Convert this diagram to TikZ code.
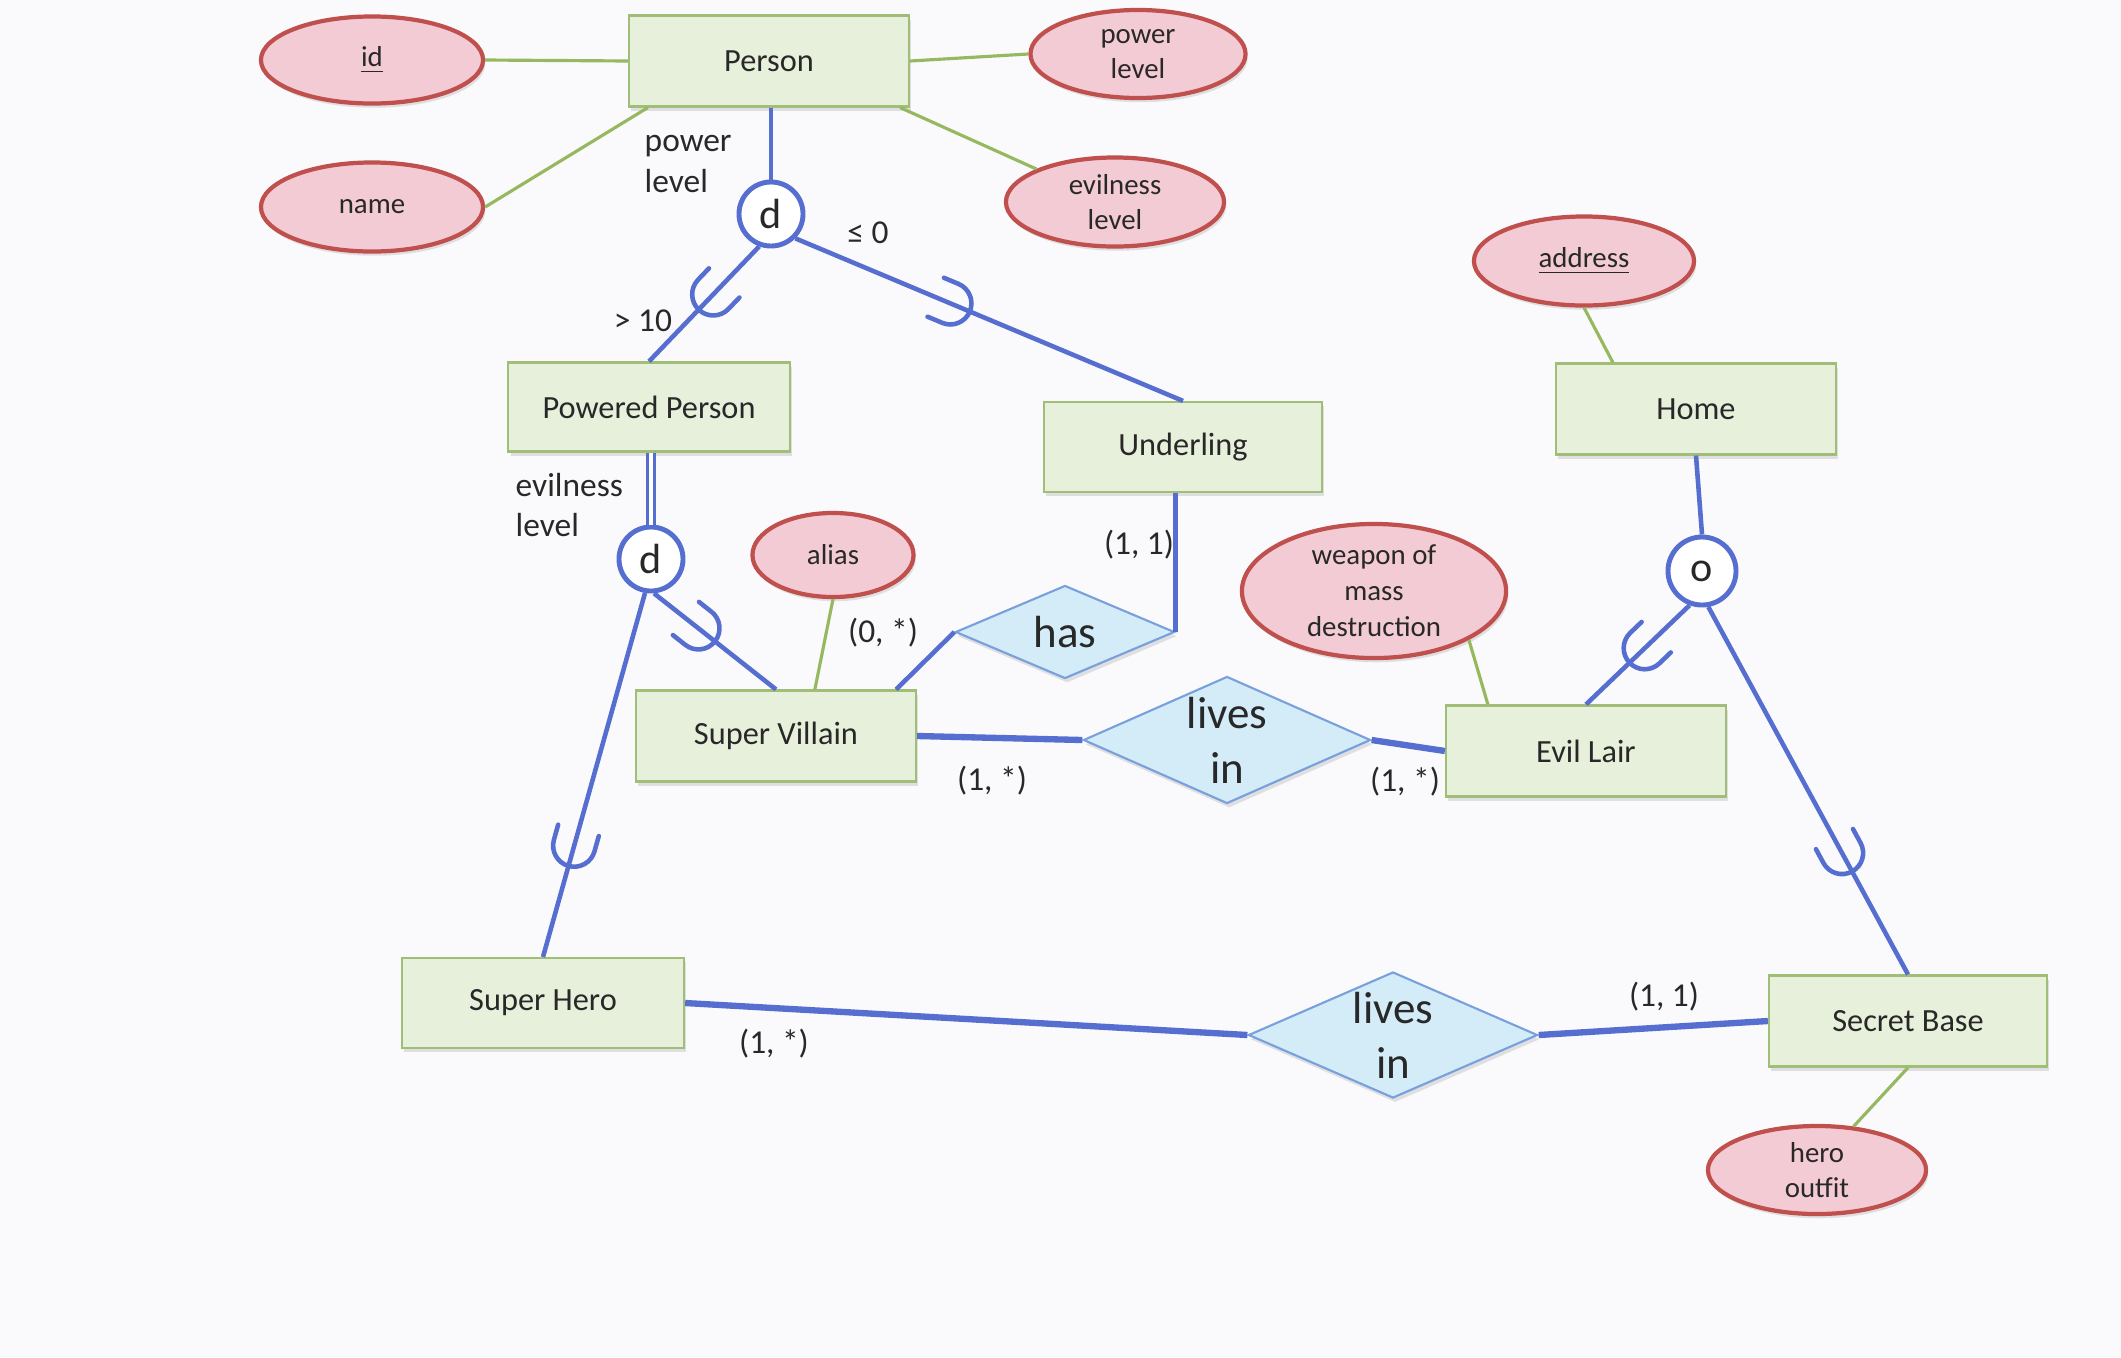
\documentclass[tikz,border=0pt]{standalone}
\usepackage{fontspec}
\setmainfont{Carlito}
\usetikzlibrary{shapes.geometric,decorations.markings,calc,shadows}

\definecolor{lineblue}{RGB}{86,110,208}
\definecolor{attrgreen}{RGB}{150,185,95}
\definecolor{boxfill}{RGB}{231,240,219}
\definecolor{boxdraw}{RGB}{160,190,120}
\definecolor{ellfill}{RGB}{243,203,212}
\definecolor{elldraw}{RGB}{192,80,77}
\definecolor{diafill}{RGB}{212,235,248}
\definecolor{diadraw}{RGB}{120,160,220}
\definecolor{bg}{RGB}{250,250,253}
\definecolor{txt}{RGB}{40,40,40}

\tikzset{
 softshadow/.style={drop shadow={shadow xshift=0.6pt, shadow yshift=-1.2pt, opacity=0.22}},
 entity/.style={rectangle, draw=boxdraw, fill=boxfill, line width=0.6pt, minimum width=2.8cm, minimum height=0.91cm, inner sep=0pt, font=\fontsize{9.2}{11}\selectfont, text=txt, softshadow},
 attr/.style={ellipse, draw=elldraw, fill=ellfill, line width=1.2pt, inner sep=0pt, align=center, font=\fontsize{8.2}{9.8}\selectfont, text=txt, softshadow},
 rel/.style={diamond, draw=diadraw, fill=diafill, line width=0.6pt, inner sep=0pt, align=center, font=\fontsize{12.8}{15.7}\selectfont, text=txt, softshadow},
 spec/.style={circle, draw=lineblue, fill=white, line width=1.4pt, minimum size=0.64cm, inner sep=0pt, font=\fontsize{12}{14}\selectfont, text=txt},
 lbl/.style={inner sep=0pt, font=\fontsize{9.5}{11.4}\selectfont, text=txt, align=left},
 link/.style={draw=lineblue, line width=1.3pt},
 rlink/.style={draw=lineblue, line width=1.8pt},
 alink/.style={draw=attrgreen, line width=0.9pt},
 subset/.style={postaction={decorate, decoration={markings, mark=at position #1 with {\draw[draw=lineblue, line width=1.3pt, line cap=round] (-10.5pt,6pt) -- (-6pt,6pt) arc[start angle=90, end angle=-90, radius=6pt] -- (-10.5pt,-6pt);}}}},
}

\begin{document}
\begin{tikzpicture}[x=0.01cm, y=-0.01cm]
\fill[bg] (0,0) rectangle (2121,1357);
\useasboundingbox (0,0) rectangle (2121,1357);

% nodes
\node[entity] (person) at (769,61) {Person};
\node[attr, minimum width=2.22cm, minimum height=0.87cm] (id) at (372,60) {\underline{id}};
\node[attr, minimum width=2.15cm, minimum height=0.88cm] (plevel) at (1138,54) {power\\level};
\node[attr, minimum width=2.22cm, minimum height=0.89cm] (name) at (372,207) {name};
\node[attr, minimum width=2.18cm, minimum height=0.89cm] (elevel) at (1115,202) {evilness\\level};
\node[spec] (d1) at (771,214) {d};
\node[entity, minimum width=2.81cm, minimum height=0.89cm] (pp) at (649,407) {Powered Person};
\node[entity, minimum width=2.78cm, minimum height=0.90cm] (und) at (1183,447) {Underling};
\node[spec] (d2) at (651,559) {d};
\node[attr, minimum width=1.61cm, minimum height=0.84cm] (alias) at (833,555) {alias};
\node[rel, aspect=2.35, minimum width=2.19cm, minimum height=0.93cm] (has) at (1065,632) {has};
\node[entity] (sv) at (776,736) {Super Villain};
\node[rel, aspect=2.26, minimum width=2.87cm, minimum height=1.27cm] (li1) at (1227,740) {lives\\in};
\node[entity] (el) at (1586,751) {Evil Lair};
\node[attr, minimum width=2.64cm, minimum height=1.34cm, font=\fontsize{8.2}{10.2}\selectfont] (weapon) at (1374,591) {weapon of\\mass\\destruction};
\node[attr, minimum width=2.20cm, minimum height=0.89cm] (addr) at (1584,261) {\underline{address}};
\node[entity] (home) at (1696,409) {Home};
\node[spec, minimum size=0.68cm] (ov) at (1702,571) {o};
\node[entity, minimum width=2.82cm, minimum height=0.90cm] (sh) at (543,1003) {Super Hero};
\node[rel, aspect=2.29, minimum width=2.89cm, minimum height=1.26cm] (li2) at (1393,1035) {lives\\in};
\node[entity, minimum width=2.78cm] (sb) at (1908,1021) {Secret Base};
\node[attr, minimum width=2.18cm, minimum height=0.88cm] (ho) at (1817,1170) {hero\\outfit};

% labels
\node[lbl, anchor=west] (lpl) at (644,164) {power\\level};
\node[lbl] (lle) at (868,233) {≤ 0};
\node[lbl] (lgt) at (643,321) {> 10};
\node[lbl, anchor=west] (lel) at (515,505) {evilness\\level};
\node[lbl] (c1) at (1139,545) {(1, 1)};
\node[lbl] (c2) at (883,633) {(0, *)};
\node[lbl] (c3) at (992,781) {(1, *)};
\node[lbl] (c4) at (1405,782) {(1, *)};
\node[lbl] (c5) at (774,1044) {(1, *)};
\node[lbl] (c6) at (1664,997) {(1, 1)};

% attribute links
\draw[alink] (id.east) -- (person.west);
\draw[alink] (name.east) -- ($(person.south west)+(20,0)$);
\draw[alink] (person.east) -- (plevel.west);
\draw[alink] ($(person.south east)+(-10,0)$) -- (elevel.north west);
\draw[alink] (alias.south) -- ($(sv.north west)+(180,0)$);
\draw[alink] (weapon.south east) -- ($(el.north west)+(43,0)$);
\draw[alink] (addr.south) -- ($(home.north west)+(58,0)$);
\draw[alink] (sb.south) -- (ho.50);

% specialisation links
\draw[link] (person.south -| d1) -- (d1.north);
\draw[link, subset=0.55] (d1.-110) -- (pp.north);
\draw[link, subset=0.45] (d1.-45) -- (und.north);
\draw[draw=lineblue, line width=0.8pt, double=white, double distance=1.2pt] (pp.south -| d2) -- (d2.north);
\draw[link, subset=0.5] (d2.-85) -- (sv.north);
\draw[link, subset=0.75] (d2.-100) -- (sh.north);
\draw[link] (home.south) -- (ov.north);
\draw[link, subset=0.58] (ov.-110) -- (el.north);
\draw[link, subset=0.72] (ov.-80) -- (sb.north);

% relationship links
\draw[link] ($(sv.north east)+(-21,0)$) -- (has.west);
\draw[link] (has.east) -- (has.east |- und.south);
\draw[rlink] (sv.east) -- (li1.west);
\draw[rlink] (li1.east) -- (el.west);
\draw[rlink] (sh.east) -- (li2.west);
\draw[rlink] (li2.east) -- (sb.west);
\end{tikzpicture}
\end{document}
